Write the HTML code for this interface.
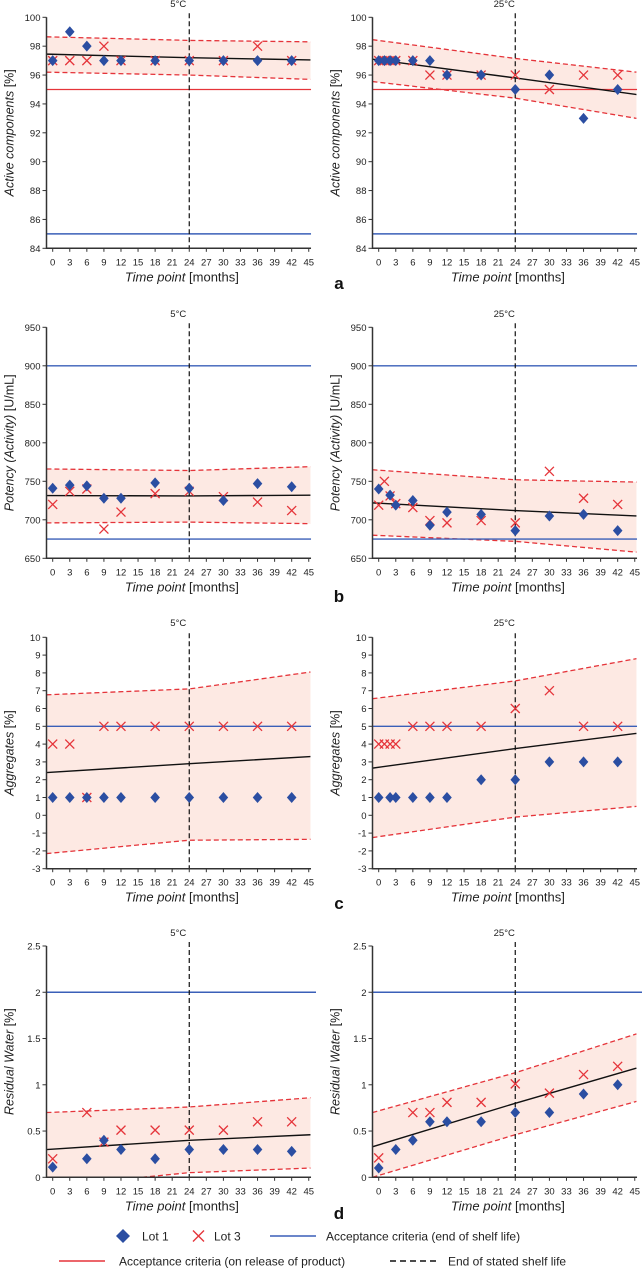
<!DOCTYPE html>
<html><head><meta charset="utf-8"><style>
html,body{margin:0;padding:0;background:#fff;}
svg{display:block;font-family:"Liberation Sans",sans-serif;}
</style></head><body>
<svg id="fig" width="642" height="1270" viewBox="0 0 642 1270" xmlns="http://www.w3.org/2000/svg"></svg>
<script>
// ---------- data ----------
const xTickLabels=[0,3,6,9,12,15,18,21,24,27,30,33,36,39,42,45];
const bandT=[-1.1,24,45.3];
// panel a
const aTicks=[84,86,88,90,92,94,96,98,100];
const aColdL1T=[0,3,6,9,12,18,24,30,36,42];
const aColdL1V=[97,99,98,97,97,97,97,97,97,97];
const aColdL3T=[0,3,6,9,12,18,24,30,36,42];
const aColdL3V=[97,97,97,98,97,97,97,97,98,97];
const aColdFit=[97.45,97.2,97.05];
const aColdUp=[98.65,98.4,98.3];
const aColdLo=[96.2,96.0,95.7];
const aWarmL1T=[0,1,2,3,6,9,12,18,24,30,36,42];
const aWarmL1V=[97,97,97,97,97,97,96,96,95,96,93,95];
const aWarmL3T=[0,1,2,3,6,9,12,18,24,30,36,42];
const aWarmL3V=[97,97,97,97,97,96,96,96,96,95,96,96];
const aWarmFit=[97.1,95.8,94.65];
const aWarmUp=[98.45,97.15,96.2];
const aWarmLo=[95.55,94.4,93.0];
const aBlue=[85]; const aRed=[95];
// panel b
const bTicks=[650,700,750,800,850,900,950];
const bColdL1T=[0,3,6,9,12,18,24,30,36,42];
const bColdL1V=[741,745,744,728,728,748,741,725,747,743];
const bColdL3T=[0,3,6,9,12,18,24,30,36,42];
const bColdL3V=[720,737,740,688,710,734,737,730,723,712];
const bColdFit=[731.5,731,732];
const bColdUp=[766,764,769];
const bColdLo=[696,697,695];
const bWarmL1T=[0,2,3,6,9,12,18,24,30,36,42];
const bWarmL1V=[740,732,719,725,693,710,707,686,705,707,686];
const bWarmL3T=[0,1,2,3,6,9,12,18,24,30,36,42];
const bWarmL3V=[719,750,731,721,716,699,696,699,696,763,728,720];
const bWarmFit=[722,712,705];
const bWarmUp=[765,752,749];
const bWarmLo=[680,672,658];
const bBlue=[900,675]; const bRed=[];
// panel c
const cTicks=[-3,-2,-1,0,1,2,3,4,5,6,7,8,9,10];
const cColdL1T=[0,3,6,9,12,18,24,30,36,42];
const cColdL1V=[1,1,1,1,1,1,1,1,1,1];
const cColdL3T=[0,3,6,9,12,18,24,30,36,42];
const cColdL3V=[4,4,1,5,5,5,5,5,5,5];
const cColdFit=[2.4,2.9,3.3];
const cColdUp=[6.77,7.1,8.05];
const cColdLo=[-2.15,-1.4,-1.35];
const cWarmL1T=[0,2,3,6,9,12,18,24,30,36,42];
const cWarmL1V=[1,1,1,1,1,1,2,2,3,3,3];
const cWarmL3T=[0,1,2,3,6,9,12,18,24,30,36,42];
const cWarmL3V=[4,4,4,4,5,5,5,5,6,7,5,5];
const cWarmFit=[2.65,3.75,4.6];
const cWarmUp=[6.55,7.55,8.8];
const cWarmLo=[-1.25,-0.1,0.5];
const cBlue=[5]; const cRed=[];
// panel d
const dTicks=[0,0.5,1,1.5,2,2.5];
const dTickLabels=["0","0.5","1","1.5","2","2.5"];
const dColdL1T=[0,6,9,12,18,24,30,36,42];
const dColdL1V=[0.11,0.2,0.4,0.3,0.2,0.3,0.3,0.3,0.28];
const dColdL3T=[0,6,9,12,18,24,30,36,42];
const dColdL3V=[0.2,0.7,0.38,0.51,0.51,0.51,0.51,0.6,0.6];
const dColdFit=[0.3,0.4,0.46];
const dColdUp=[0.7,0.76,0.86];
const dColdLo=[-0.1,0.05,0.1];
const dWarmL1T=[0,3,6,9,12,18,24,30,36,42];
const dWarmL1V=[0.1,0.3,0.4,0.6,0.6,0.6,0.7,0.7,0.9,1.0];
const dWarmL3T=[0,6,9,12,18,24,30,36,42];
const dWarmL3V=[0.21,0.7,0.7,0.81,0.81,1.01,0.91,1.11,1.2];
const dWarmFit=[0.33,0.8,1.18];
const dWarmUp=[0.7,1.13,1.55];
const dWarmLo=[0.0,0.46,0.82];
const dBlue=[2]; const dRed=[];

// ---------- drawing ----------
const NS="http://www.w3.org/2000/svg";
const svg=document.getElementById('fig');
const XSTEP=5.69;
let clipId=0;
function mk(tag,attrs,parent){const e=document.createElementNS(NS,tag);for(const k in attrs)e.setAttribute(k,attrs[k]);(parent||svg).appendChild(e);return e;}
function panel(p){
  const g=mk('g',{});
  
  
  const x0=p.axisX+6.2;
  const X=t=>x0+t*XSTEP;
  const Y=v=>p.bottom-(v-p.yMin)/(p.yMax-p.yMin)*(p.bottom-p.top);
  const right=X(45.4);
  const cid='clip'+(clipId++);
  const cp=mk('clipPath',{id:cid},g);
  mk('rect',{x:p.axisX,y:p.top-2,width:right-p.axisX+2,height:p.bottom-p.top+2},cp);
  const plot=mk('g',{'clip-path':'url(#'+cid+')'},g);
  let pts=bandT.map((t,i)=>X(t)+','+Y(p.up[i]));
  pts=pts.concat(bandT.slice().reverse().map((t,i)=>X(t)+','+Y(p.lo[bandT.length-1-i])));
  const band=mk('polygon',{points:pts.join(' '),fill:'#fde9e3'},plot);
  
  
  [p.up,p.lo].forEach((arr,k)=>{
    const l=mk('polyline',{points:bandT.map((t,i)=>X(t)+','+Y(arr[i])).join(' '),fill:'none',stroke:'#e5343a','stroke-width':1.3,'stroke-dasharray':'5,3'},plot);
    
    
  });
  p.red.forEach(v=>{const l=mk('line',{x1:p.axisX,x2:right,y1:Y(v),y2:Y(v),stroke:'#e5343a','stroke-width':1.3},plot);
    });
  p.blue.forEach(v=>{const l=mk('line',{x1:p.axisX,x2:p.blueRight||right,y1:Y(v),y2:Y(v),stroke:'#3a5fb8','stroke-width':1.4},g);
    });
  const fit=mk('polyline',{points:bandT.map((t,i)=>X(t)+','+Y(p.fit[i])).join(' '),fill:'none',stroke:'#111','stroke-width':1.4},plot);
  
  
  const vd=mk('line',{x1:X(24),x2:X(24),y1:p.top-4,y2:p.bottom,stroke:'#111','stroke-width':1.2,'stroke-dasharray':'5,3'},g);
  
  
  p.l3t.forEach((t,i)=>{const cx=X(t),cy=Y(p.l3v[i]);
    const m=mk('path',{d:`M${cx-4.5},${cy-4.5}L${cx+4.5},${cy+4.5}M${cx-4.5},${cy+4.5}L${cx+4.5},${cy-4.5}`,stroke:'#e5343a','stroke-width':1.3,fill:'none'},g);
    });
  p.l1t.forEach((t,i)=>{const cx=X(t),cy=Y(p.l1v[i]);
    const m=mk('polygon',{points:`${cx},${cy-5.5} ${cx+4.8},${cy} ${cx},${cy+5.5} ${cx-4.8},${cy}`,fill:'#2b4ea2'},g);
    });
  const ax=mk('path',{d:`M${p.axisX},${p.top}V${p.bottom}H${right}`,stroke:'#333','stroke-width':1.5,fill:'none'},g);
  
  p.ticks.forEach((v,i)=>{
    mk('line',{x1:p.axisX-4,x2:p.axisX,y1:Y(v),y2:Y(v),stroke:'#333','stroke-width':1},g);
    const t=mk('text',{x:p.axisX-6,y:Y(v)+3.5,'text-anchor':'end','font-size':9.5,fill:'#222'},g);
    t.textContent=p.tickLabels?p.tickLabels[i]:v;
    
  });
  xTickLabels.forEach(v=>{
    mk('line',{x1:X(v),x2:X(v),y1:p.bottom,y2:p.bottom+3.5,stroke:'#333','stroke-width':1},g);
    const t=mk('text',{x:X(v),y:p.bottom+17,'text-anchor':'middle','font-size':9.5,fill:'#222'},g);
    t.textContent=v;
    
  });
  const xl=mk('text',{x:(x0+right)/2,y:p.bottom+33,'text-anchor':'middle','font-size':13,fill:'#222'},g);
  xl.innerHTML='<tspan font-style="italic">Time point</tspan> [months]';
  
  const cy=(p.top+p.bottom)/2, lx=p.axisX-33;
  const yl=mk('text',{x:lx,y:cy,'text-anchor':'middle','font-size':12.5,fill:'#222',transform:`rotate(-90 ${lx} ${cy})`},g);
  yl.innerHTML='<tspan font-style="italic">'+p.yItal+'</tspan> '+p.yUnit;
  
  const ti=mk('text',{x:X(24)-11,y:p.titleY,'text-anchor':'middle','font-size':9.5,fill:'#222'},g);
  ti.textContent=p.title;
  
}
const rows=[
 {k:'a',top:17.3,bottom:248.3,titleY:7,yMin:84,yMax:100,ticks:aTicks,yItal:'Active components',yUnit:'[%]',blue:aBlue,red:aRed,letterY:289,
  c:[aColdL1T,aColdL1V,aColdL3T,aColdL3V,aColdFit,aColdUp,aColdLo],w:[aWarmL1T,aWarmL1V,aWarmL3T,aWarmL3V,aWarmFit,aWarmUp,aWarmLo]},
 {k:'b',top:327.3,bottom:558.3,titleY:317,yMin:650,yMax:950,ticks:bTicks,yItal:'Potency (Activity)',yUnit:'[U/mL]',blue:bBlue,red:bRed,letterY:602,
  c:[bColdL1T,bColdL1V,bColdL3T,bColdL3V,bColdFit,bColdUp,bColdLo],w:[bWarmL1T,bWarmL1V,bWarmL3T,bWarmL3V,bWarmFit,bWarmUp,bWarmLo]},
 {k:'c',top:637.3,bottom:868.7,titleY:626,yMin:-3,yMax:10,ticks:cTicks,yItal:'Aggregates',yUnit:'[%]',blue:cBlue,red:cRed,letterY:909,
  c:[cColdL1T,cColdL1V,cColdL3T,cColdL3V,cColdFit,cColdUp,cColdLo],w:[cWarmL1T,cWarmL1V,cWarmL3T,cWarmL3V,cWarmFit,cWarmUp,cWarmLo]},
 {k:'d',top:946,bottom:1177.3,titleY:936,yMin:0,yMax:2.5,ticks:dTicks,tickLabels:dTickLabels,yItal:'Residual Water',yUnit:'[%]',blue:dBlue,red:dRed,letterY:1219,
  c:[dColdL1T,dColdL1V,dColdL3T,dColdL3V,dColdFit,dColdUp,dColdLo],w:[dWarmL1T,dWarmL1V,dWarmL3T,dWarmL3V,dWarmFit,dWarmUp,dWarmLo]}
];
rows.forEach(r=>{
  [['cold',46.5,r.c,'5°C',r.k==='d'?316:null],['warm',372.5,r.w,'25°C',r.k==='d'?642:null]].forEach(([nm,ax,d,title,br])=>{
    panel({name:'panel-'+r.k+'-'+nm,axisX:ax,top:r.top,bottom:r.bottom,titleY:r.titleY,yMin:r.yMin,yMax:r.yMax,ticks:r.ticks,tickLabels:r.tickLabels,
      yItal:r.yItal,yUnit:r.yUnit,blue:r.blue,red:r.red,title:title,blueRight:br,
      l1t:d[0],l1v:d[1],l3t:d[2],l3v:d[3],fit:d[4],up:d[5],lo:d[6]});
  });
  const L=mk('text',{x:339,y:r.letterY,'text-anchor':'middle','font-size':17,'font-weight':'bold',fill:'#111'});
  L.textContent=r.k;
  
  
});
</script>
<script>
(function(){
  const NS="http://www.w3.org/2000/svg";
  const svg=document.getElementById('fig');
  const lg=document.createElementNS(NS,'g');
  
  
  svg.appendChild(lg);
  function mk(tag,a){const e=document.createElementNS(NS,tag);for(const k in a)e.setAttribute(k,a[k]);lg.appendChild(e);return e;}
  function txt(x,y,s,name){const t=mk('text',{x:x,y:y,'font-size':12,fill:'#222'});t.textContent=s;
    }
  const y1=1236,y2=1261;
  mk('polygon',{points:`123,${y1-7} 130,${y1} 123,${y1+7} 116,${y1}`,fill:'#2b4ea2'});
  txt(142,y1+4.5,'Lot 1','legend-lot1');
  mk('path',{d:`M193,${y1-5.5}L204,${y1+5.5}M193,${y1+5.5}L204,${y1-5.5}`,stroke:'#e5343a','stroke-width':1.4});
  txt(214,y1+4.5,'Lot 3','legend-lot3');
  mk('line',{x1:270,x2:316,y1:y1,y2:y1,stroke:'#3a5fb8','stroke-width':1.4});
  txt(326,y1+4.5,'Acceptance criteria (end of shelf life)','legend-shelf-life-criteria');
  mk('line',{x1:59,x2:105,y1:y2,y2:y2,stroke:'#e5343a','stroke-width':1.4});
  txt(119,y2+4.5,'Acceptance criteria (on release of product)','legend-release-criteria');
  mk('line',{x1:390,x2:436,y1:y2,y2:y2,stroke:'#111','stroke-width':1.4,'stroke-dasharray':'6,4'});
  txt(448,y2+4.5,'End of stated shelf life','legend-shelf-life-end');
})();
</script>
</body></html>
